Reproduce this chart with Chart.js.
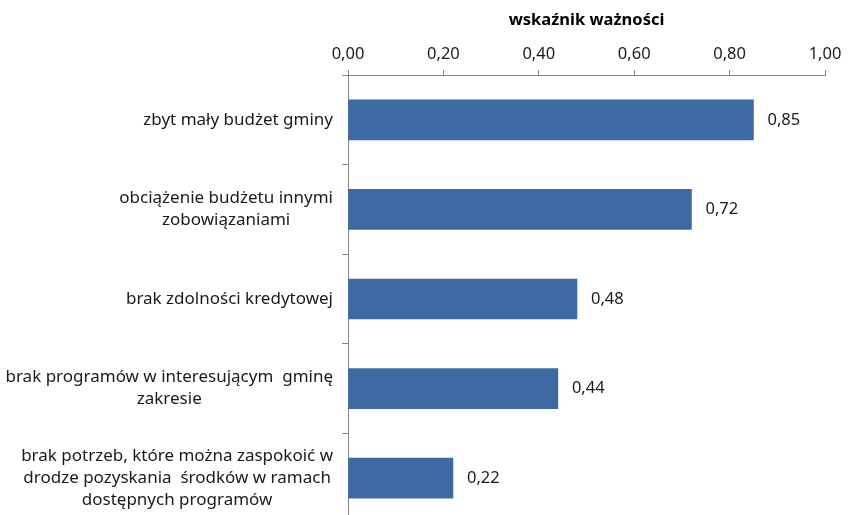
<!DOCTYPE html>
<html>
<head>
<meta charset="utf-8">
<script src="https://cdn.jsdelivr.net/npm/chart.js@4.4.0/dist/chart.umd.min.js"></script>
<style>
  html, body { margin: 0; padding: 0; background: #fff; overflow: hidden; }
  #wrap { width: 854px; height: 530px; }
</style>
</head>
<body>
<div id="wrap"><canvas id="c"></canvas></div>
<script>
const categories = [
    ['zbyt mały budżet gminy'],
    ['obciążenie budżetu innymi', 'zobowiązaniami'],
    ['brak zdolności kredytowej'],
    ['brak programów w interesującym  gminę', 'zakresie'],
    ['brak potrzeb, które można zaspokoić w', 'drodze pozyskania  środków w ramach', 'dostępnych programów']
];
const values = [0.85, 0.72, 0.48, 0.44, 0.22];
const axisTitle = 'wskaźnik ważności';

const fontFamily = '"Noto Sans", sans-serif';
const fmt = v => v.toFixed(2).replace('.', ',');

// category labels: lines centred among themselves, block right-aligned to the axis
const catLabels = {
    id: 'catLabels',
    afterDraw(chart) {
        const ctx = chart.ctx;
        const y = chart.scales.y;
        const right = chart.chartArea.left - 15;
        const lh = 22;
        ctx.save();
        ctx.font = '17px ' + fontFamily;
        ctx.fillStyle = '#1a1a1a';
        ctx.textAlign = 'center';
        ctx.textBaseline = 'middle';
        categories.forEach((lines, i) => {
            const cy = y.getPixelForValue(i);
            let w = 0;
            lines.forEach(l => { w = Math.max(w, ctx.measureText(l).width); });
            const cx = right - w / 2;
            const top = cy - (lines.length - 1) * lh / 2;
            lines.forEach((l, j) => ctx.fillText(l, cx, top + j * lh));
        });
        ctx.restore();
    }
};

// value labels right of each bar
const valueLabels = {
    id: 'valueLabels',
    afterDatasetsDraw(chart) {
        const ctx = chart.ctx;
        const meta = chart.getDatasetMeta(0);
        ctx.save();
        ctx.font = '16.5px ' + fontFamily;
        ctx.fillStyle = '#1a1a1a';
        ctx.textAlign = 'left';
        ctx.textBaseline = 'middle';
        meta.data.forEach((bar, i) => {
            ctx.fillText(fmt(values[i]), bar.x + 14, bar.y);
        });
        ctx.restore();
    }
};

new Chart(document.getElementById('c'), {
    type: 'bar',
    data: {
        labels: categories.map(c => c.join(' ')),
        datasets: [{
            data: values,
            backgroundColor: '#3d6aa3',
            borderWidth: 0,
            barThickness: 40
        }]
    },
    options: {
        indexAxis: 'y',
        responsive: true,
        maintainAspectRatio: false,
        animation: false,
        layout: { padding: { top: 0, right: 29, bottom: 7, left: 0 } },
        plugins: {
            legend: { display: false },
            tooltip: { enabled: false }
        },
        scales: {
            x: {
                position: 'top',
                min: 0,
                max: 1,
                afterFit(scale) { scale.height = 75; },
                ticks: {
                    stepSize: 0.2,
                    padding: 6,
                    color: '#1a1a1a',
                    font: { family: fontFamily, size: 16.5 },
                    callback: v => fmt(v)
                },
                grid: {
                    drawOnChartArea: false,
                    drawTicks: true,
                    tickLength: 5,
                    color: '#868686'
                },
                border: { color: '#868686', width: 1 },
                title: {
                    display: true,
                    text: axisTitle,
                    color: '#000',
                    font: { family: fontFamily, size: 16.5, weight: 'bold' },
                    padding: { top: 10, bottom: 0 }
                }
            },
            y: {
                afterFit(scale) { scale.width = 348; },
                ticks: { display: false },
                grid: {
                    offset: true,
                    drawOnChartArea: false,
                    drawTicks: true,
                    tickLength: 6,
                    color: '#868686'
                },
                border: { color: '#868686', width: 1 }
            }
        }
    },
    plugins: [catLabels, valueLabels]
});
</script>
</body>
</html>
